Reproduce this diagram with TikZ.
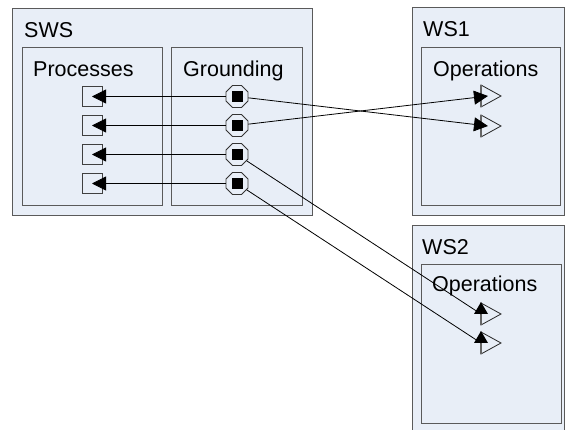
\documentclass[tikz,border=0pt]{standalone}
\usepackage{fontspec}
\setmainfont{Liberation Sans}
\usetikzlibrary{arrows.meta,shapes.geometric}
\definecolor{boxfill}{HTML}{E8EEF7}
\definecolor{boxline}{HTML}{5A5A5A}
\begin{document}
\begin{tikzpicture}[x=1pt,y=-1pt,
  frame/.style={draw=boxline,fill=boxfill,line width=1pt,inner sep=0pt,anchor=north west},
  lbl/.style={anchor=base west,inner sep=0pt,font=\fontsize{21.5}{26}\selectfont},
  procbox/.style={draw=black!75,fill=boxfill,line width=0.8pt,minimum size=20pt,inner sep=0pt},
  gnd/.style={regular polygon,regular polygon sides=8,minimum size=23.8pt,inner sep=0pt,
    draw=black!80,fill=boxfill,line width=0.8pt,
    path picture={\fill[black] ([shift={(-5.5pt,-5.5pt)}]path picture bounding box.center) rectangle ([shift={(5.5pt,5.5pt)}]path picture bounding box.center);}},
  conn/.style={draw=black,line width=0.8pt},
  tipL/.style={-{Triangle[length=14pt,width=14pt]}},
  optri/.style={draw=black!85,fill=boxfill,line width=0.8pt,line join=miter},
  triedge/.style={draw=black!60,line width=1.5pt},
  uphead/.style={fill=black}
]
\useasboundingbox (0,0) rectangle (565,430);

% frames
\node[frame,minimum width=300pt,minimum height=207pt] (sws) at (12,8) {};
\node[frame,minimum width=140pt,minimum height=158pt] (proc) at (22,47) {};
\node[frame,minimum width=131pt,minimum height=158pt] (grnd) at (171,47) {};
\node[frame,minimum width=152pt,minimum height=208pt] (ws1) at (412,7) {};
\node[frame,minimum width=139pt,minimum height=158pt] (ops1) at (421,47) {};
\node[frame,minimum width=152pt,minimum height=230pt] (ws2) at (412,225) {};
\node[frame,minimum width=140pt,minimum height=159pt] (ops2) at (421,264) {};

% labels
\node[lbl] (tsws) at (24,38) {SWS};
\node[lbl] (tproc) at (33,77) {Processes};
\node[lbl] (tgrnd) at (183,77) {Grounding};
\node[lbl] (tws1) at (423,37) {WS1};
\node[lbl] (tops1) at (433,77) {Operations};
\node[lbl] (tws2) at (422,255) {WS2};
\node[lbl] (tops2) at (432,292) {Operations};

% process squares
\node[procbox] (p1) at (92,96.5) {};
\node[procbox] (p2) at (92,125.5) {};
\node[procbox] (p3) at (92,154.5) {};
\node[procbox] (p4) at (92,183.5) {};

% grounding octagons
\node[gnd] (g1) at (237,96.5) {};
\node[gnd] (g2) at (237,125.5) {};
\node[gnd] (g3) at (237,154.5) {};
\node[gnd] (g4) at (237,183.5) {};

% operation triangles
\coordinate (o1) at (481,96);
\coordinate (o2) at (481,126);
\coordinate (o3) at (481,314);
\coordinate (o4) at (481,343);
\foreach \o in {o1,o2,o3,o4}{
  \draw[optri] (\o) ++(0,-11) -- ++(20,11) -- ++(-20,11) -- cycle;
  \draw[triedge] (\o) ++(0,-11) -- ++(0,22);
}

% connectors
\draw[conn,tipL] (g1) -- (p1.center);
\draw[conn,tipL] (g2) -- (p2.center);
\draw[conn,tipL] (g3) -- (p3.center);
\draw[conn,tipL] (g4) -- (p4.center);
\draw[conn,tipL] (g1) -- ([xshift=7pt]o2);
\draw[conn,tipL] (g2) -- ([xshift=7pt]o1);
\draw[conn] (g3) -- (o3);
\draw[conn] (g4) -- (o4);
\fill[uphead] (o3) ++(-7,0) -- ++(14,0) -- ++(-7,-12) -- cycle;
\fill[uphead] (o4) ++(-7,0) -- ++(14,0) -- ++(-7,-12) -- cycle;
\end{tikzpicture}
\end{document}
